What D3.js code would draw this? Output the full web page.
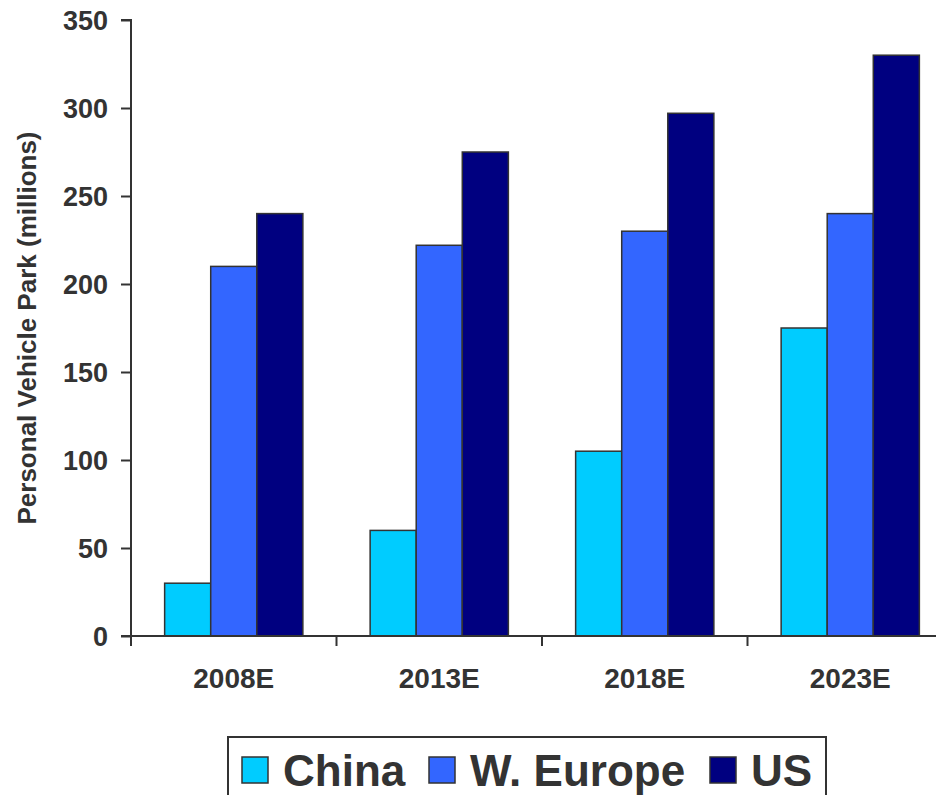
<!DOCTYPE html>
<html>
<head>
<meta charset="utf-8">
<script src="https://cdn.jsdelivr.net/npm/d3@7/dist/d3.min.js"></script>
<style>
  html, body { margin: 0; padding: 0; background: #fff; }
  svg { display: block; }
  text { font-family: "Liberation Sans", Arial, sans-serif; font-weight: bold; fill: #333; }
</style>
</head>
<body>
<svg id="chart" width="936" height="795"></svg>
<script>
// Personal vehicle park by region, millions
const years = ["2008E", "2013E", "2018E", "2023E"];
const seriesNames = ["China", "W. Europe", "US"];
const china = [30, 60, 105, 175];
const wEurope = [210, 222, 230, 240];
const us = [240, 275, 297, 330];
const yTicks = [0, 50, 100, 150, 200, 250, 300, 350];
const colors = ["#00ccff", "#3366ff", "#000080"];

const seriesValues = [china, wEurope, us];
const svg = d3.select("#chart");
const ink = "#333";

const x = d3.scaleBand().domain(years).range([131, 953]).paddingInner(0).paddingOuter(0);
const xs = d3.scaleBand().domain(seriesNames).range([0, x.bandwidth()]).paddingInner(0).paddingOuter(0.73);
const y = d3.scaleLinear().domain([0, 350]).range([636, 20]);

// bars
years.forEach((yr, i) => {
  const g = svg.append("g").attr("transform", `translate(${x(yr)},0)`);
  g.selectAll("rect")
    .data(seriesNames.map((s, k) => ({ s, v: seriesValues[k][i], c: colors[k] })))
    .join("rect")
    .attr("x", d => xs(d.s))
    .attr("width", xs.bandwidth())
    .attr("y", d => y(d.v))
    .attr("height", d => y(0) - y(d.v))
    .attr("fill", d => d.c)
    .attr("stroke", ink)
    .attr("stroke-width", 1.5);
});

// y axis
const yAxis = d3.axisLeft(y).tickValues(yTicks).tickSize(10).tickPadding(13);
const gy = svg.append("g").attr("transform", "translate(131,0)").call(yAxis);
gy.selectAll("path, line").attr("stroke", ink).attr("stroke-width", 2);
gy.select(".domain").attr("d", "M-10,20H0V636");
gy.selectAll("text").style("font-size", "27px").attr("font-family", null).attr("fill", ink).attr("dy", "0.36em");

// x axis with ticks on category boundaries
const gx = svg.append("g").attr("transform", "translate(0,636)");
gx.append("line").attr("x1", 121).attr("x2", 953).attr("stroke", ink).attr("stroke-width", 2);
years.forEach(yr => {
  gx.append("line").attr("x1", x(yr)).attr("x2", x(yr)).attr("y1", 0).attr("y2", 10)
    .attr("stroke", ink).attr("stroke-width", 2);
});
gx.selectAll("text.cat").data(years).join("text")
  .attr("class", "cat")
  .attr("x", d => x(d) + x.bandwidth() / 2)
  .attr("y", 52)
  .attr("text-anchor", "middle")
  .style("font-size", "28px")
  .text(d => d);

// y axis title
svg.append("text")
  .attr("transform", "translate(36,328) rotate(-90)")
  .attr("text-anchor", "middle")
  .style("font-size", "26px")
  .text("Personal Vehicle Park (millions)");

// legend
const lg = svg.append("g");
lg.append("rect").attr("x", 228).attr("y", 737).attr("width", 598).attr("height", 80)
  .attr("fill", "#fff").attr("stroke", ink).attr("stroke-width", 2);
const legendX = [242, 429, 710];
seriesNames.forEach((s, k) => {
  lg.append("rect").attr("x", legendX[k]).attr("y", 757).attr("width", 26).attr("height", 26)
    .attr("fill", colors[k]).attr("stroke", ink).attr("stroke-width", 1.5);
  lg.append("text").attr("x", legendX[k] + 41).attr("y", 786)
    .style("font-size", "44px").text(s);
});
</script>
</body>
</html>
